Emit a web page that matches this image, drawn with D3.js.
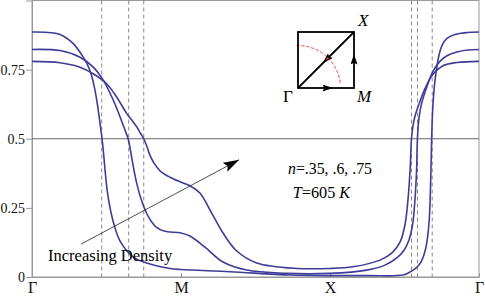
<!DOCTYPE html>
<html>
<head>
<meta charset="utf-8">
<script src="https://cdn.jsdelivr.net/npm/d3@7"></script>
<style>
  body { margin: 0; background: #fff; }
  svg text { font-family: "Liberation Serif", "Times New Roman", "DejaVu Serif", serif; }
</style>
</head>
<body>
<div id="vis-container"></div>
<script>
// ------------------------------ DATA ------------------------------ //
// Band path positions: 0 = Gamma, 1 = M, 2 = X, 3 = Gamma
const pathLabels = ["\u0393", "M", "X", "\u0393"];
const yTicks = [0, 0.25, 0.5, 0.75];

// Occupation along the path for the three densities, [k, value]
const curveN35 = [
  [0, 0.886], [0.087, 0.885], [0.188, 0.877], [0.275, 0.845], [0.344, 0.795],
  [0.389, 0.747], [0.416, 0.693], [0.440, 0.621], [0.458, 0.549], [0.470, 0.5],
  [0.480, 0.449], [0.492, 0.377], [0.507, 0.303], [0.527, 0.242], [0.550, 0.191],
  [0.591, 0.130], [0.678, 0.073], [0.770, 0.051], [0.926, 0.031], [1.0, 0.027],
  [1.329, 0.019], [1.732, 0.007], [2.0, 0.005], [2.248, 0.005], [2.490, 0.007],
  [2.537, 0.018], [2.570, 0.029], [2.597, 0.043], [2.617, 0.061], [2.638, 0.094],
  [2.654, 0.141], [2.666, 0.206], [2.675, 0.332], [2.682, 0.495], [2.689, 0.603],
  [2.701, 0.693], [2.716, 0.755], [2.731, 0.801], [2.752, 0.838], [2.785, 0.863],
  [2.839, 0.877], [2.919, 0.884], [3.0, 0.886]
];
const curveN60 = [
  [0, 0.823], [0.188, 0.819], [0.322, 0.795], [0.411, 0.759], [0.479, 0.711],
  [0.546, 0.639], [0.574, 0.603], [0.602, 0.563], [0.628, 0.526], [0.646, 0.498],
  [0.661, 0.458], [0.678, 0.405], [0.701, 0.343], [0.732, 0.282], [0.779, 0.220],
  [0.832, 0.181], [0.886, 0.166], [1.0, 0.159], [1.060, 0.148], [1.161, 0.108],
  [1.282, 0.054], [1.441, 0.025], [1.709, 0.013], [2.0, 0.013], [2.246, 0.025],
  [2.369, 0.043], [2.448, 0.069], [2.497, 0.097], [2.530, 0.134], [2.554, 0.188],
  [2.570, 0.278], [2.581, 0.386], [2.587, 0.502], [2.597, 0.574], [2.615, 0.628],
  [2.649, 0.686], [2.691, 0.744], [2.738, 0.780], [2.785, 0.800], [2.852, 0.814],
  [2.926, 0.821], [3.0, 0.823]
];
const curveN75 = [
  [0, 0.780], [0.188, 0.775], [0.322, 0.759], [0.411, 0.735], [0.501, 0.699],
  [0.568, 0.651], [0.636, 0.591], [0.671, 0.567], [0.703, 0.543], [0.728, 0.520],
  [0.750, 0.500], [0.772, 0.471], [0.792, 0.440], [0.819, 0.412], [0.859, 0.384],
  [0.926, 0.361], [1.0, 0.343], [1.060, 0.330], [1.128, 0.303], [1.195, 0.242],
  [1.282, 0.159], [1.374, 0.094], [1.508, 0.051], [1.777, 0.031], [2.0, 0.031],
  [2.154, 0.037], [2.336, 0.061], [2.416, 0.087], [2.470, 0.126], [2.503, 0.188],
  [2.526, 0.296], [2.539, 0.404], [2.547, 0.502], [2.558, 0.550], [2.572, 0.585],
  [2.597, 0.625], [2.638, 0.682], [2.691, 0.733], [2.758, 0.764], [2.852, 0.776],
  [3.0, 0.780]
];

// Fermi crossings (dashed verticals)
const fermiK = [0.468, 0.649, 0.750, 2.547, 2.587, 2.686];

// ------------------------------ SET UP ------------------------------ //
const width = 485;
const height = 298;
const margin = { top: 0.5, right: 6, bottom: 21, left: 32 };
const lineColor = "#3d3d99";
const serif = "'Liberation Serif', 'Times New Roman', 'DejaVu Serif', serif";

const svg = d3.select("#vis-container")
  .append("svg")
  .attr("width", width)
  .attr("height", height)
  .style("font-family", serif);

const x = d3.scaleLinear()
  .domain([0, 3])
  .range([margin.left, width - margin.right]);

const y = d3.scaleLinear()
  .domain([0, 1])
  .range([height - margin.bottom, margin.top]);

// Frame
svg.append("rect")
  .attr("x", x(0))
  .attr("y", y(1))
  .attr("width", x(3) - x(0))
  .attr("height", y(0) - y(1))
  .attr("fill", "none")
  .attr("stroke", "#999")
  .attr("stroke-width", 1);

// Axes
svg.append("g")
  .attr("transform", `translate(${x(0)},0)`)
  .call(d3.axisLeft(y).tickValues(yTicks).tickSize(6).tickPadding(1)
    .tickFormat(d => d === 0 ? "0" : String(d)))
  .attr("font-family", null)
  .call(g => g.select(".domain").attr("stroke", "#999"))
  .call(g => g.selectAll(".tick line").attr("stroke", "#999"))
  .call(g => g.selectAll("text").attr("font-size", "14px").attr("fill", "#111")
    .style("font-family", serif));

svg.append("g")
  .attr("transform", `translate(0,${y(0)})`)
  .call(d3.axisBottom(x).tickValues([0, 1, 2, 3]).tickSizeInner(-4).tickSizeOuter(0)
    .tickPadding(5).tickFormat(i => pathLabels[i]))
  .attr("font-family", null)
  .call(g => g.select(".domain").attr("stroke", "#999"))
  .call(g => g.selectAll(".tick line").attr("stroke", "#999"))
  .call(g => g.selectAll("text").attr("font-size", "16px").attr("fill", "#111")
    .style("font-family", serif));

// Half filling line
svg.append("line")
  .attr("x1", x(0))
  .attr("x2", x(3))
  .attr("y1", y(0.5))
  .attr("y2", y(0.5))
  .attr("stroke", "#666")
  .attr("stroke-width", 1);

// Fermi crossings
svg.selectAll(".kf")
  .data(fermiK)
  .enter()
  .append("line")
  .attr("class", "kf")
  .attr("x1", d => x(d))
  .attr("x2", d => x(d))
  .attr("y1", y(1))
  .attr("y2", y(0))
  .attr("stroke", "#888")
  .attr("stroke-width", 1)
  .attr("stroke-dasharray", "4,3");

// Curves
const line = d3.line()
  .x(d => x(d[0]))
  .y(d => y(d[1]))
  .curve(d3.curveCatmullRom.alpha(0.5));

svg.selectAll(".band")
  .data([curveN35, curveN60, curveN75])
  .enter()
  .append("path")
  .attr("class", "band")
  .attr("d", line)
  .attr("fill", "none")
  .attr("stroke", lineColor)
  .attr("stroke-width", 1.6);

// Arrow markers
const defs = svg.append("defs");
defs.append("marker")
  .attr("id", "bigHead")
  .attr("viewBox", "0 0 16 10")
  .attr("refX", 16)
  .attr("refY", 5)
  .attr("markerWidth", 16)
  .attr("markerHeight", 10)
  .attr("markerUnits", "userSpaceOnUse")
  .attr("orient", "auto")
  .append("path")
  .attr("d", "M0,0 L16,5 L0,10 L3,5 Z")
  .attr("fill", "#000");

defs.append("marker")
  .attr("id", "smallHead")
  .attr("viewBox", "0 0 12 8")
  .attr("refX", 12)
  .attr("refY", 4)
  .attr("markerWidth", 12)
  .attr("markerHeight", 7)
  .attr("markerUnits", "userSpaceOnUse")
  .attr("orient", "auto")
  .append("path")
  .attr("d", "M0,0 L12,4 L0,8 L2,4 Z")
  .attr("fill", "#000");

// Increasing density arrow
svg.append("line")
  .attr("x1", x(0.329))
  .attr("y1", y(0.119))
  .attr("x2", x(1.39))
  .attr("y2", y(0.424))
  .attr("stroke", "#222")
  .attr("stroke-width", 0.8)
  .attr("marker-end", "url(#bigHead)");

svg.append("text")
  .attr("x", 48)
  .attr("y", 261)
  .attr("font-size", "16.5px")
  .text("Increasing Density");

// Density / temperature label
const info = svg.append("text")
  .attr("x", 330)
  .attr("y", 174)
  .attr("text-anchor", "middle")
  .attr("font-size", "15.8px");
info.append("tspan").attr("font-style", "italic").text("n");
info.append("tspan").text("=.35, .6, .75");

const temp = svg.append("text")
  .attr("x", 321.5)
  .attr("y", 198)
  .attr("text-anchor", "middle")
  .attr("font-size", "16.2px");
temp.append("tspan").attr("font-style", "italic").text("T");
temp.append("tspan").text("=605 ");
temp.append("tspan").attr("font-style", "italic").text("K");

// Brillouin zone inset
const bz = svg.append("g");
const x0 = 298, y0 = 32, s = 56;

bz.append("path")
  .attr("d", d3.arc()({ innerRadius: 42.5, outerRadius: 42.5, startAngle: -0.03, endAngle: Math.PI / 2 - 0.1 }))
  .attr("transform", `translate(${x0},${y0 + s})`)
  .attr("fill", "none")
  .attr("stroke", "#f07070")
  .attr("stroke-width", 0.9)
  .attr("stroke-dasharray", "3,2");

bz.append("rect")
  .attr("x", x0)
  .attr("y", y0)
  .attr("width", s)
  .attr("height", s)
  .attr("fill", "none")
  .attr("stroke", "#000")
  .attr("stroke-width", 1.8);

bz.append("line")
  .attr("x1", x0)
  .attr("y1", y0 + s)
  .attr("x2", x0 + s)
  .attr("y2", y0)
  .attr("stroke", "#000")
  .attr("stroke-width", 1.8);

// path arrows: Gamma -> M, M -> X, X -> Gamma
bz.append("line")
  .attr("x1", x0).attr("y1", y0 + s)
  .attr("x2", x0 + 35).attr("y2", y0 + s)
  .attr("stroke", "none")
  .attr("marker-end", "url(#smallHead)");
bz.append("line")
  .attr("x1", x0 + s).attr("y1", y0 + s)
  .attr("x2", x0 + s).attr("y2", y0 + 22)
  .attr("stroke", "none")
  .attr("marker-end", "url(#smallHead)");
bz.append("line")
  .attr("x1", x0 + s).attr("y1", y0)
  .attr("x2", x0 + 25).attr("y2", y0 + s - 25)
  .attr("stroke", "none")
  .attr("marker-end", "url(#smallHead)");

bz.append("circle")
  .attr("cx", x0 + 29.5)
  .attr("cy", y0 + s - 29.5)
  .attr("r", 1.3)
  .attr("fill", "#d33");

bz.append("text")
  .attr("x", 358).attr("y", 26)
  .attr("font-size", "17px").attr("font-style", "italic")
  .text("X");
bz.append("text")
  .attr("x", 357).attr("y", 102)
  .attr("font-size", "17px").attr("font-style", "italic")
  .text("M");
bz.append("text")
  .attr("x", 283).attr("y", 102)
  .attr("font-size", "17px")
  .text("\u0393");
</script>
</body>
</html>
